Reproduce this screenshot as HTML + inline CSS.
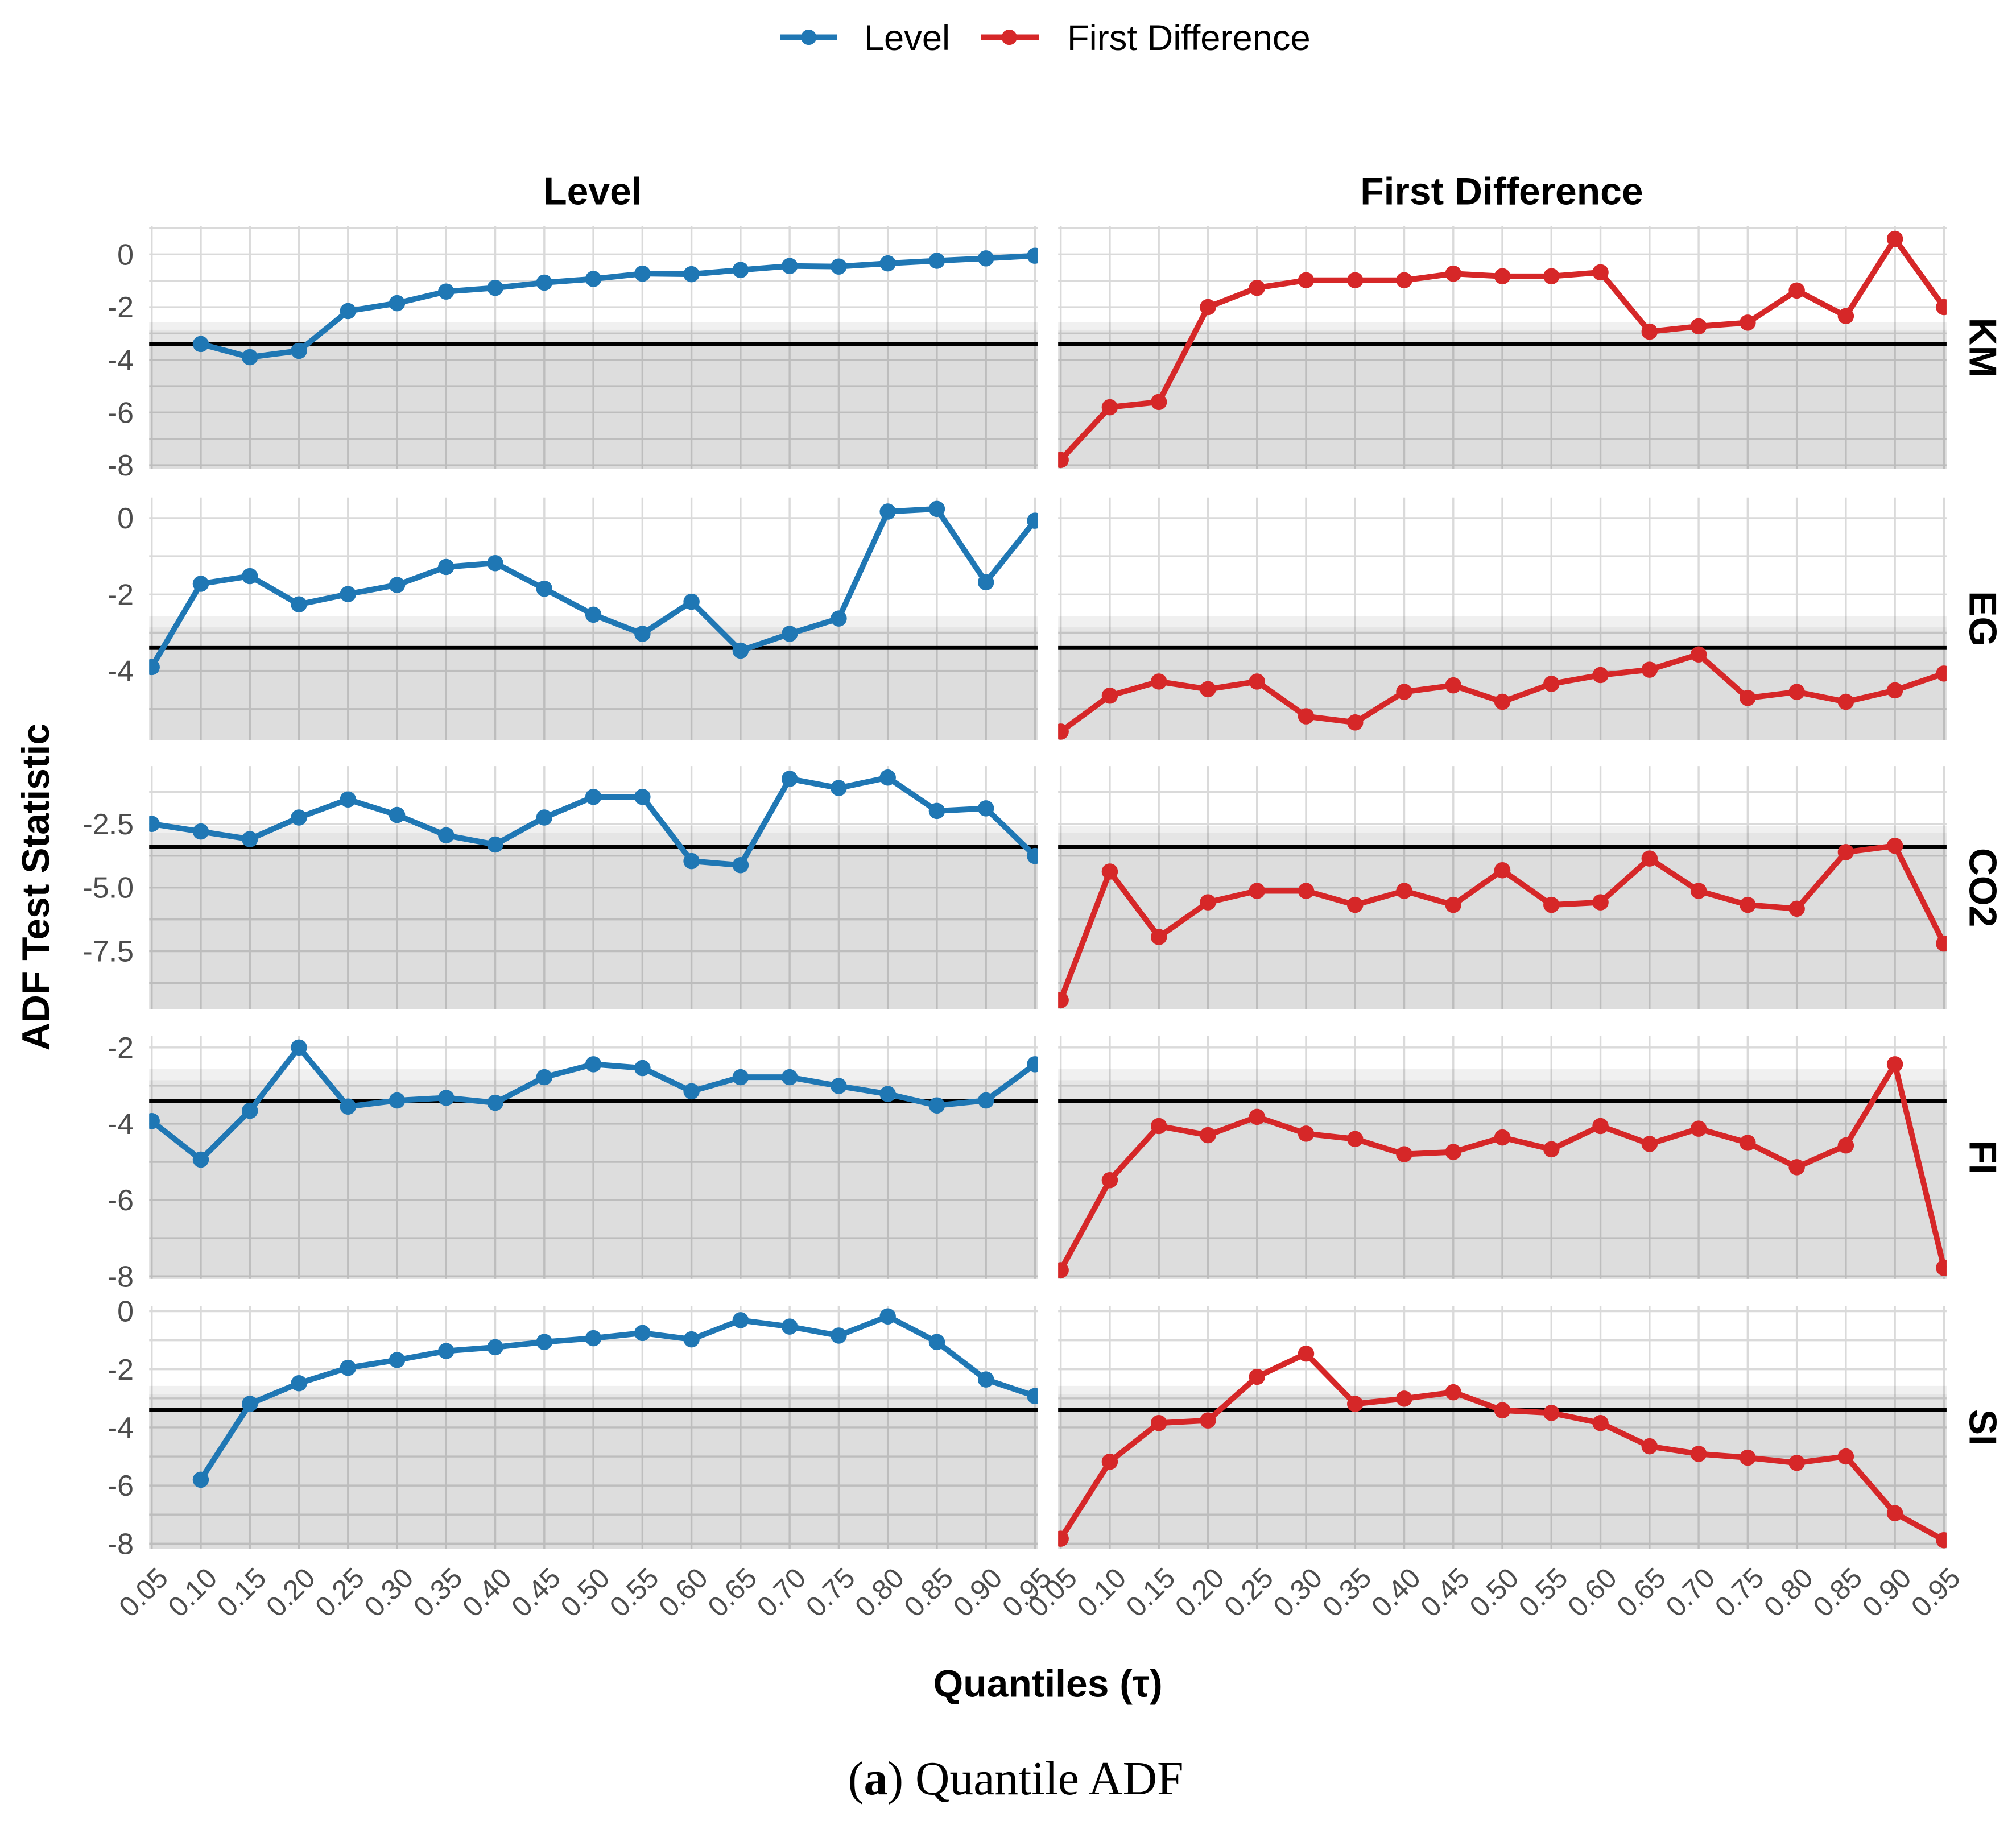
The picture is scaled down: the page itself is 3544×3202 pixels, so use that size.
<!DOCTYPE html>
<html><head><meta charset="utf-8"><style>
html,body{margin:0;padding:0;background:#fff;}
svg{display:block;}
</style></head><body>
<svg id="chart" width="3544" height="3202" viewBox="0 0 1568 1416.7" xmlns="http://www.w3.org/2000/svg" font-family="Liberation Sans, sans-serif">
<g>
  <g>
    <line x1="607" y1="29" x2="651" y2="29" stroke="#1f77b4" stroke-width="4.5"/>
    <circle cx="629" cy="29" r="6" fill="#1f77b4"/>
    <text x="672" y="39" font-size="28" style="font-family:'Liberation Sans Narrow','Liberation Sans',sans-serif" fill="#000">Level</text>
  </g>
  <g>
    <line x1="763" y1="29" x2="808" y2="29" stroke="#d62728" stroke-width="4.5"/>
    <circle cx="785" cy="29" r="6" fill="#d62728"/>
    <text x="830" y="39" font-size="28" style="font-family:'Liberation Sans Narrow','Liberation Sans',sans-serif" fill="#000">First Difference</text>
  </g>
</g>
<text x="461" y="159" font-size="30" font-weight="bold" text-anchor="middle">Level</text>
<text x="1168" y="159" font-size="30" font-weight="bold" text-anchor="middle">First Difference</text>
<text transform="translate(38,690) rotate(-90)" font-size="30" font-weight="bold" text-anchor="middle">ADF Test Statistic</text>
<text x="815" y="1320" font-size="30" font-weight="bold" text-anchor="middle">Quantiles (τ)</text>
<text x="790" y="1396" font-size="37" text-anchor="middle" style="font-family:'Liberation Serif',serif">(<tspan font-weight="bold">a</tspan>) Quantile ADF</text>
<g id="panels"></g>
</svg>
<script>
const quantiles = [0.05,0.10,0.15,0.20,0.25,0.30,0.35,0.40,0.45,0.50,0.55,0.60,0.65,0.70,0.75,0.80,0.85,0.90,0.95];
const xTickLabels = ["0.05","0.10","0.15","0.20","0.25","0.30","0.35","0.40","0.45","0.50","0.55","0.60","0.65","0.70","0.75","0.80","0.85","0.90","0.95"];
const variables = ["KM","EG","CO2","FI","SI"];
const levelKM = [null,-3.4,-3.9,-3.66,-2.15,-1.85,-1.41,-1.27,-1.07,-0.93,-0.73,-0.75,-0.59,-0.44,-0.46,-0.34,-0.24,-0.15,-0.05];
const diffKM = [-7.8,-5.8,-5.6,-2.0,-1.27,-0.98,-0.98,-0.98,-0.73,-0.83,-0.83,-0.68,-2.93,-2.73,-2.59,-1.37,-2.34,0.59,-2.0];
const levelEG = [-3.9,-1.72,-1.52,-2.26,-1.99,-1.75,-1.28,-1.18,-1.85,-2.53,-3.03,-2.19,-3.47,-3.03,-2.63,0.17,0.24,-1.68,-0.07];
const diffEG = [-5.59,-4.65,-4.28,-4.48,-4.28,-5.19,-5.35,-4.55,-4.38,-4.81,-4.34,-4.11,-3.97,-3.57,-4.71,-4.55,-4.81,-4.51,-4.07];
const levelCO2 = [-2.5,-2.8,-3.1,-2.25,-1.54,-2.15,-2.95,-3.31,-2.25,-1.44,-1.44,-3.96,-4.12,-0.73,-1.09,-0.68,-1.99,-1.89,-3.76];
const diffCO2 = [-9.42,-4.37,-6.94,-5.58,-5.13,-5.13,-5.68,-5.13,-5.68,-4.32,-5.68,-5.58,-3.86,-5.13,-5.68,-5.83,-3.61,-3.36,-7.2];
const levelFI = [-3.93,-4.94,-3.66,-2.0,-3.55,-3.39,-3.32,-3.45,-2.78,-2.44,-2.54,-3.15,-2.78,-2.78,-3.01,-3.22,-3.52,-3.39,-2.44];
const diffFI = [-7.84,-5.48,-4.06,-4.3,-3.82,-4.26,-4.4,-4.8,-4.74,-4.36,-4.67,-4.06,-4.53,-4.13,-4.5,-5.14,-4.57,-2.44,-7.78];
const levelSI = [null,-5.8,-3.19,-2.48,-1.95,-1.68,-1.37,-1.24,-1.06,-0.93,-0.75,-0.97,-0.31,-0.53,-0.84,-0.18,-1.06,-2.35,-2.92];
const diffSI = [-7.83,-5.18,-3.85,-3.76,-2.26,-1.46,-3.19,-3.01,-2.79,-3.41,-3.5,-3.85,-4.65,-4.91,-5.04,-5.22,-5.0,-6.95,-7.88];
const yTicksKM = [0,-2,-4,-6,-8];
const yTicksEG = [0,-2,-4];
const yTicksCO2 = [-2.5,-5,-7.5];
const yTicksFI = [-2,-4,-6,-8];
const yTicksSI = [0,-2,-4,-6,-8];
const yTickLabelsCO2 = ["-2.5","-5.0","-7.5"];
const criticalValue = -3.4;
const shadeLevels = [-2.57,-2.86,-3.43];
const shadeAlpha = [0.06,0.045,0.03];

const rowsLayout = [
  {name:"KM", lv:levelKM, fd:diffKM, ticks:yTicksKM, labels:null, minorStep:1, top:176, bot:365, ymax:1.07, ymin:-8.15},
  {name:"EG", lv:levelEG, fd:diffEG, ticks:yTicksEG, labels:null, minorStep:1, top:387, bot:576, ymax:0.54, ymin:-5.82},
  {name:"CO2", lv:levelCO2, fd:diffCO2, ticks:yTicksCO2, labels:yTickLabelsCO2, minorStep:1.25, top:596, bot:785, ymax:-0.23, ymin:-9.77},
  {name:"FI", lv:levelFI, fd:diffFI, ticks:yTicksFI, labels:null, minorStep:1, top:806, bot:995, ymax:-1.7, ymin:-8.07},
  {name:"SI", lv:levelSI, fd:diffSI, ticks:yTicksSI, labels:null, minorStep:1, top:1016, bot:1205, ymax:0.18, ymin:-8.18}
];
const cols = [{key:"lv", left:118, right:805, color:"#1f77b4", nm:"level"},{key:"fd", left:825, right:1512, color:"#d62728", nm:"first-difference"}];
const NS = "http://www.w3.org/2000/svg";
const root = document.getElementById("panels");
function mk(tag, attrs, parent){const e=document.createElementNS(NS,tag);for(const k in attrs)e.setAttribute(k,attrs[k]);(parent||root).appendChild(e);return e;}
rowsLayout.forEach((r, ri) => {
  const yS = v => r.top + (r.ymax - v) / (r.ymax - r.ymin) * (r.bot - r.top);
  cols.forEach((c, ci) => {
    const xS = q => c.left + (q - 0.05) / 0.9 * (c.right - c.left);
    const L = c.left - 2, R = c.right + 2;
    const g = mk("g", {});
    
    
    const cid = "clip" + ri + ci;
    const cp = mk("clipPath", {id: cid}, g);
    mk("rect", {x:L, y:r.top, width:R-L, height:r.bot-r.top}, cp);
    const lo = Math.floor(r.ymin / r.minorStep) * r.minorStep;
    for (let v = lo; v <= r.ymax + 1e-9; v += r.minorStep) {
      if (v < r.ymin) continue;
      const gl = mk("line", {x1:L, x2:R, y1:yS(v), y2:yS(v), stroke:"#dadada", "stroke-width":1.5}, g);
      
      
    }
    quantiles.forEach(q => {
      const vl = mk("line", {x1:xS(q), x2:xS(q), y1:r.top, y2:r.bot, stroke:"#dadada", "stroke-width":1.5}, g);
      
      
    });
    shadeLevels.forEach((s, si) => {
      const sr = mk("rect", {x:L, y:yS(s), width:R-L, height:Math.max(0, r.bot - yS(s)), fill:"#000", "fill-opacity":shadeAlpha[si]}, g);
      
      
    });
    const cl = mk("line", {x1:L, x2:R, y1:yS(criticalValue), y2:yS(criticalValue), stroke:"#000", "stroke-width":3}, g);
    
    
    const vals = r[c.key];
    const sg = mk("g", {"clip-path":"url(#"+cid+")"}, g);
    
    
    let d = "", pen = false;
    vals.forEach((v, i) => {
      if (v === null) { pen = false; return; }
      d += (pen ? "L" : "M") + xS(quantiles[i]).toFixed(2) + "," + yS(v).toFixed(2);
      pen = true;
    });
    const pl = mk("path", {d:d, fill:"none", stroke:c.color, "stroke-width":4.4, "stroke-linejoin":"round"}, sg);
    
    
    vals.forEach((v, i) => {
      if (v === null) return;
      const pt = mk("circle", {cx:xS(quantiles[i]), cy:yS(v), r:6.3, fill:c.color}, sg);
      
      
    });
    if (ci === 0) {
      r.ticks.forEach((t, ti) => {
        const tl = mk("text", {x:c.left-14, y:yS(t)+8, "font-size":23, fill:"#4d4d4d", "text-anchor":"end"}, g);
        tl.textContent = r.labels ? r.labels[ti] : String(t);
        
        
      });
    }
    if (ri === rowsLayout.length - 1) {
      quantiles.forEach((q, i) => {
        const x = xS(q) + 14, y = r.bot + 24;
        const tl = mk("text", {x:x, y:y, "font-size":22, fill:"#4d4d4d", "text-anchor":"end", transform:"rotate(-45 "+x+" "+y+")"}, g);
        tl.textContent = xTickLabels[i];
        
        
      });
    }
  });
  const st = mk("text", {transform:"translate(1532,"+((r.top+r.bot)/2)+") rotate(90)", "font-size":30, "font-weight":"bold", "text-anchor":"middle"});
  st.textContent = r.name;
  
  
});
</script>
</body></html>
